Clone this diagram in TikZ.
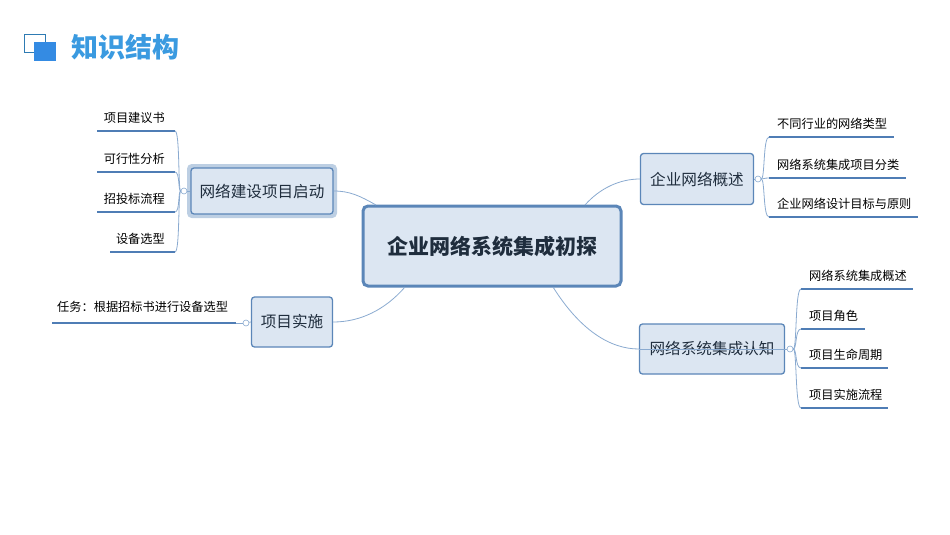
\documentclass[tikz,border=0pt]{standalone}
\usepackage{fontspec}
\setmainfont{Noto Sans CJK SC}
\begin{document}
\begin{tikzpicture}[x=1pt,y=-1pt,
  box/.style={draw=boxb,fill=boxf,line width=1.3pt,rounded corners=3pt,text=txt,font=\fontsize{15.6}{15.6}\selectfont,inner sep=0pt},
  leaf/.style={font=\fontsize{12.2}{12.2}\selectfont,text=black,inner sep=0pt},
  uline/.style={draw=lineb,line width=2.4pt},
  conn/.style={draw=connc,line width=0.8pt},
  knob/.style={circle,draw=connc,fill=white,inner sep=0pt,minimum size=6pt,line width=0.6pt}]
\definecolor{boxb}{HTML}{5B86B8}
\definecolor{boxf}{HTML}{DCE6F2}
\definecolor{txt}{HTML}{1F2D3D}
\definecolor{lineb}{HTML}{4F7DB5}
\definecolor{connc}{HTML}{8AAAD0}
\definecolor{ttl}{HTML}{3A9AE0}
\useasboundingbox (0,0) rectangle (950,535);
% title
\draw[draw=ttl!80!black,line width=0.8pt] (24,34) rectangle (45,52);
\fill[ttl!90!blue] (34,42) rectangle (56,61);
\node[anchor=west,text=ttl,font=\bfseries\fontsize{27}{27}\selectfont,inner sep=0pt] (title) at (71,47) {知识结构};
% center
\node[box,line width=3pt,rounded corners=5pt,minimum width=258pt,minimum height=80pt,font=\bfseries\fontsize{21}{21}\selectfont] (c) at (492,246) {企业网络系统集成初探};
% branches
\node[box,minimum width=146pt,minimum height=50pt,draw=boxb!40,line width=4pt] (b1g) at (262,191) {};
\node[box,minimum width=142pt,minimum height=46pt] (b1) at (262,191) {网络建设项目启动};
\node[box,minimum width=81pt,minimum height=50pt] (b2) at (292,322) {项目实施};
\node[box,minimum width=113pt,minimum height=51pt] (b3) at (697,179) {企业网络概述};
\node[box,minimum width=145pt,minimum height=50pt] (b4) at (712,349) {网络系统集成认知};
\coordinate (c1) at (376,205);
\coordinate (c2) at (405,287);
\coordinate (c3) at (585,205);
\coordinate (c4) at (553,287);
\draw[conn] (c1) .. controls (360,196) and (350,191) .. (b1.east);
\draw[conn] (c2) .. controls (385,310) and (360,322) .. (b2.east);
\draw[conn] (c3) .. controls (600,188) and (620,179) .. (b3.west);
\draw[conn] (c4) .. controls (580,330) and (610,349) .. (b4.west);
% knobs
\node[knob] (k1) at (184,191) {};
\node[knob] (k2) at (246,323) {};
\node[knob] (k3) at (758,179) {};
\node[knob] (k4) at (790,349) {};
\draw[conn] (b1.west) -- (k1);
\draw[conn] (b2.west) -- (k2);
\draw[conn] (b3.east) -- (k3);
\draw[conn] (b4.west) -- (k4);
% left leaves of b1
\foreach \n/\y/\xa/\t in {a/131/97/项目建议书,b/172/97/可行性分析,c/212/97/招投标流程,d/252/110/设备选型}{
  \coordinate (l\n) at (175,\y);
  \coordinate (l\n s) at (\xa,\y);
  \draw[uline] (l\n s) -- (l\n);
  \node[leaf,anchor=base east] (t\n) at (165,\y-9) {\t};
  \draw[conn] (k1) .. controls (178,191) and (180,\y) .. (l\n);
}
% b2 leaf
\coordinate (m) at (236,323);
\coordinate (ms) at (52,323);
\draw[uline] (ms) -- (m);
\node[leaf,anchor=base west] (tm) at (57,311) {任务：根据招标书进行设备选型};
\draw[conn] (k2) -- (m);
% b3 leaves
\foreach \n/\y/\xb/\t in {a/137/894/不同行业的网络类型,b/178/906/网络系统集成项目分类,c/217/918/企业网络设计目标与原则}{
  \coordinate (r\n) at (769,\y);
  \coordinate (r\n e) at (\xb,\y);
  \draw[uline] (r\n) -- (r\n e);
  \node[leaf,anchor=base west] (u\n) at (777,\y-9) {\t};
  \draw[conn] (k3) .. controls (765,179) and (763,\y) .. (r\n);
}
% b4 leaves
\foreach \n/\y/\xb/\t in {a/289/913/网络系统集成概述,b/329/865/项目角色,c/368/888/项目生命周期,d/408/888/项目实施流程}{
  \coordinate (s\n) at (801,\y);
  \coordinate (s\n e) at (\xb,\y);
  \draw[uline] (s\n) -- (s\n e);
  \node[leaf,anchor=base west] (v\n) at (809,\y-9) {\t};
  \draw[conn] (k4) .. controls (797,349) and (795,\y) .. (s\n);
}
\end{tikzpicture}
\end{document}
